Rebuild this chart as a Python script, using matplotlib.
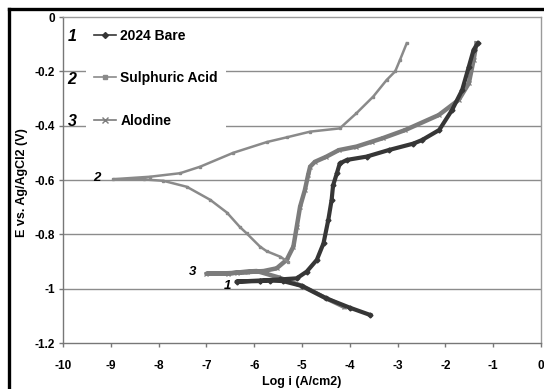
import matplotlib
matplotlib.use("Agg")
import matplotlib.pyplot as plt
from matplotlib.lines import Line2D

plt.rcParams['font.family'] = ['Liberation Sans', 'DejaVu Sans']
plt.rcParams['font.weight'] = 'bold'

# --- data (log i, E) ---
bare_x = [-3.57, -4.0, -4.5, -5.0, -5.4, -5.67, -5.88, -6.37,
          -5.88, -5.46, -5.11, -4.9, -4.69, -4.55, -4.45, -4.38, -4.35, -4.27, -4.21,
          -4.06, -3.65, -3.19, -2.67, -2.49, -2.13, -1.86, -1.65, -1.51, -1.41, -1.32]
bare_y = [-1.097, -1.07, -1.035, -0.99, -0.972, -0.970, -0.972, -0.974,
          -0.970, -0.966, -0.962, -0.937, -0.894, -0.833, -0.747, -0.673, -0.62, -0.575, -0.539,
          -0.526, -0.514, -0.49, -0.466, -0.453, -0.416, -0.342, -0.269, -0.183, -0.121, -0.097]

sulph_x = [-5.3, -5.46, -5.74, -5.88, -6.16, -6.30, -6.57, -6.92, -7.41, -7.9, -8.3, -8.95,
           -8.18, -7.55, -7.13, -6.44, -5.73, -5.32, -4.83, -4.21,
           -3.86, -3.51, -3.23, -3.05, -2.95, -2.81]
sulph_y = [-0.9, -0.882, -0.862, -0.845, -0.796, -0.773, -0.72, -0.673, -0.625, -0.603, -0.598, -0.597,
           -0.588, -0.575, -0.551, -0.50, -0.46, -0.443, -0.422, -0.41,
           -0.354, -0.293, -0.232, -0.2, -0.158, -0.097]

alod_x = [-4.13, -4.5, -5.0, -5.5, -5.95, -6.16, -6.37, -6.55, -7.0,
          -6.55, -6.2, -5.8, -5.53, -5.32, -5.18, -5.11, -5.04, -4.94, -4.87, -4.83,
          -4.73, -4.5, -4.23, -3.86, -3.54, -3.31, -2.84, -2.14, -1.72, -1.51, -1.41, -1.35]
alod_y = [-1.066, -1.035, -0.99, -0.958, -0.935, -0.937, -0.941, -0.945, -0.945,
          -0.943, -0.94, -0.935, -0.925, -0.894, -0.845, -0.772, -0.698, -0.637, -0.58, -0.551,
          -0.533, -0.515, -0.49, -0.477, -0.459, -0.446, -0.416, -0.361, -0.305, -0.244, -0.158, -0.097]

labels = ['2024 Bare', 'Sulphuric Acid', 'Alodine']
numbers = ['1', '2', '3']

x_ticks = list(range(-10, 1))
y_ticks = [0, -0.2, -0.4, -0.6, -0.8, -1, -1.2]
y_ticklabels = ['0', '-0.2', '-0.4', '-0.6', '-0.8', '-1', '-1.2']

# --- figure ---
fig = plt.figure(figsize=(5.44, 3.89), dpi=100)
ax = fig.add_axes([63/544, 1 - 343/389, 478/544, 326/389])

grid_c = '#8c8c8c'
for y in y_ticks[1:-1]:
    ax.axhline(y, color=grid_c, lw=1.0, zorder=1)

c_bare = '#363636'
c_sulph = '#8a8a8a'
c_alod = '#7c7c7c'

ax.plot(alod_x, alod_y, color=c_alod, lw=3.2, marker='x', ms=3.5, mew=0.9, zorder=3)
ax.plot(sulph_x, sulph_y, color=c_sulph, lw=1.8, marker='s', ms=2, zorder=3)
ax.plot(bare_x, bare_y, color=c_bare, lw=3.0, marker='D', ms=2.5, zorder=4)

ax.set_xlim(-10, 0)
ax.set_ylim(-1.2, 0)
ax.set_xticks(x_ticks)
ax.set_xticklabels([str(v) for v in x_ticks])
ax.set_yticks(y_ticks)
ax.set_yticklabels(y_ticklabels)
ax.tick_params(axis='both', direction='out', length=3, width=1, color='#777777', labelsize=8.5)
ax.tick_params(axis='x', pad=9)
ax.tick_params(axis='y', pad=3)
for lab in ax.get_xticklabels() + ax.get_yticklabels():
    lab.set_fontweight('bold')
for sp in ax.spines.values():
    sp.set_color('#9a9a9a')
    sp.set_linewidth(1.0)
ax.spines['left'].set_color('#777777')
ax.spines['bottom'].set_color('#777777')

ax.set_xlabel('Log i (A/cm2)', fontsize=9, fontweight='bold', va='center')
ax.set_ylabel('E vs. Ag/AgCl2 (V)', fontsize=9, fontweight='bold', va='center')
ax.xaxis.set_label_coords(0.5, -(382 - 343) / 326)
ax.yaxis.set_label_coords(-(63 - 22) / 478, 0.5 - (183 - 180) / 326)

handles = [
    Line2D([], [], color=c_bare, lw=1.2, marker='D', ms=3),
    Line2D([], [], color=c_sulph, lw=1.2, marker='s', ms=2.5),
    Line2D([], [], color=c_alod, lw=1.2, marker='x', ms=4, mew=1),
]
leg = ax.legend(handles, labels, loc='upper left', bbox_to_anchor=(0.04, 1.0),
                frameon=True, fancybox=False, edgecolor='none', facecolor='white',
                framealpha=1, prop={'size': 10, 'weight': 'bold'},
                handlelength=1.6, handletextpad=0.3, labelspacing=2.05,
                borderpad=0.6, borderaxespad=0.25)
leg.set_zorder(5)

# numbers next to legend entries (axes fraction)
for num, py in zip(numbers, [36, 79, 121]):
    ax.text((72 - 63) / 478, 1 - (py - 17) / 326, num, transform=ax.transAxes,
            fontsize=11.5, fontweight='bold', style='italic', ha='center', va='center', zorder=6)

# numbers next to the curve starts
ax.text(-9.3, -0.592, '2', fontsize=9.5, fontweight='bold', style='italic', ha='center', va='center')
ax.text(-7.28, -0.94, '3', fontsize=9.5, fontweight='bold', style='italic', ha='center', va='center')
ax.text(-6.55, -0.99, '1', fontsize=9.5, fontweight='bold', style='italic', ha='center', va='center')

# black frame at left and top edges
fig.add_artist(Line2D([8.5/544, 8.5/544], [0, 1 - 8.5/389], color='black', lw=2.4,
                      transform=fig.transFigure))
fig.add_artist(Line2D([8.5/544, 1], [1 - 8.5/389, 1 - 8.5/389], color='black', lw=2.4,
                      transform=fig.transFigure))

fig.savefig('out.png', dpi=100)
